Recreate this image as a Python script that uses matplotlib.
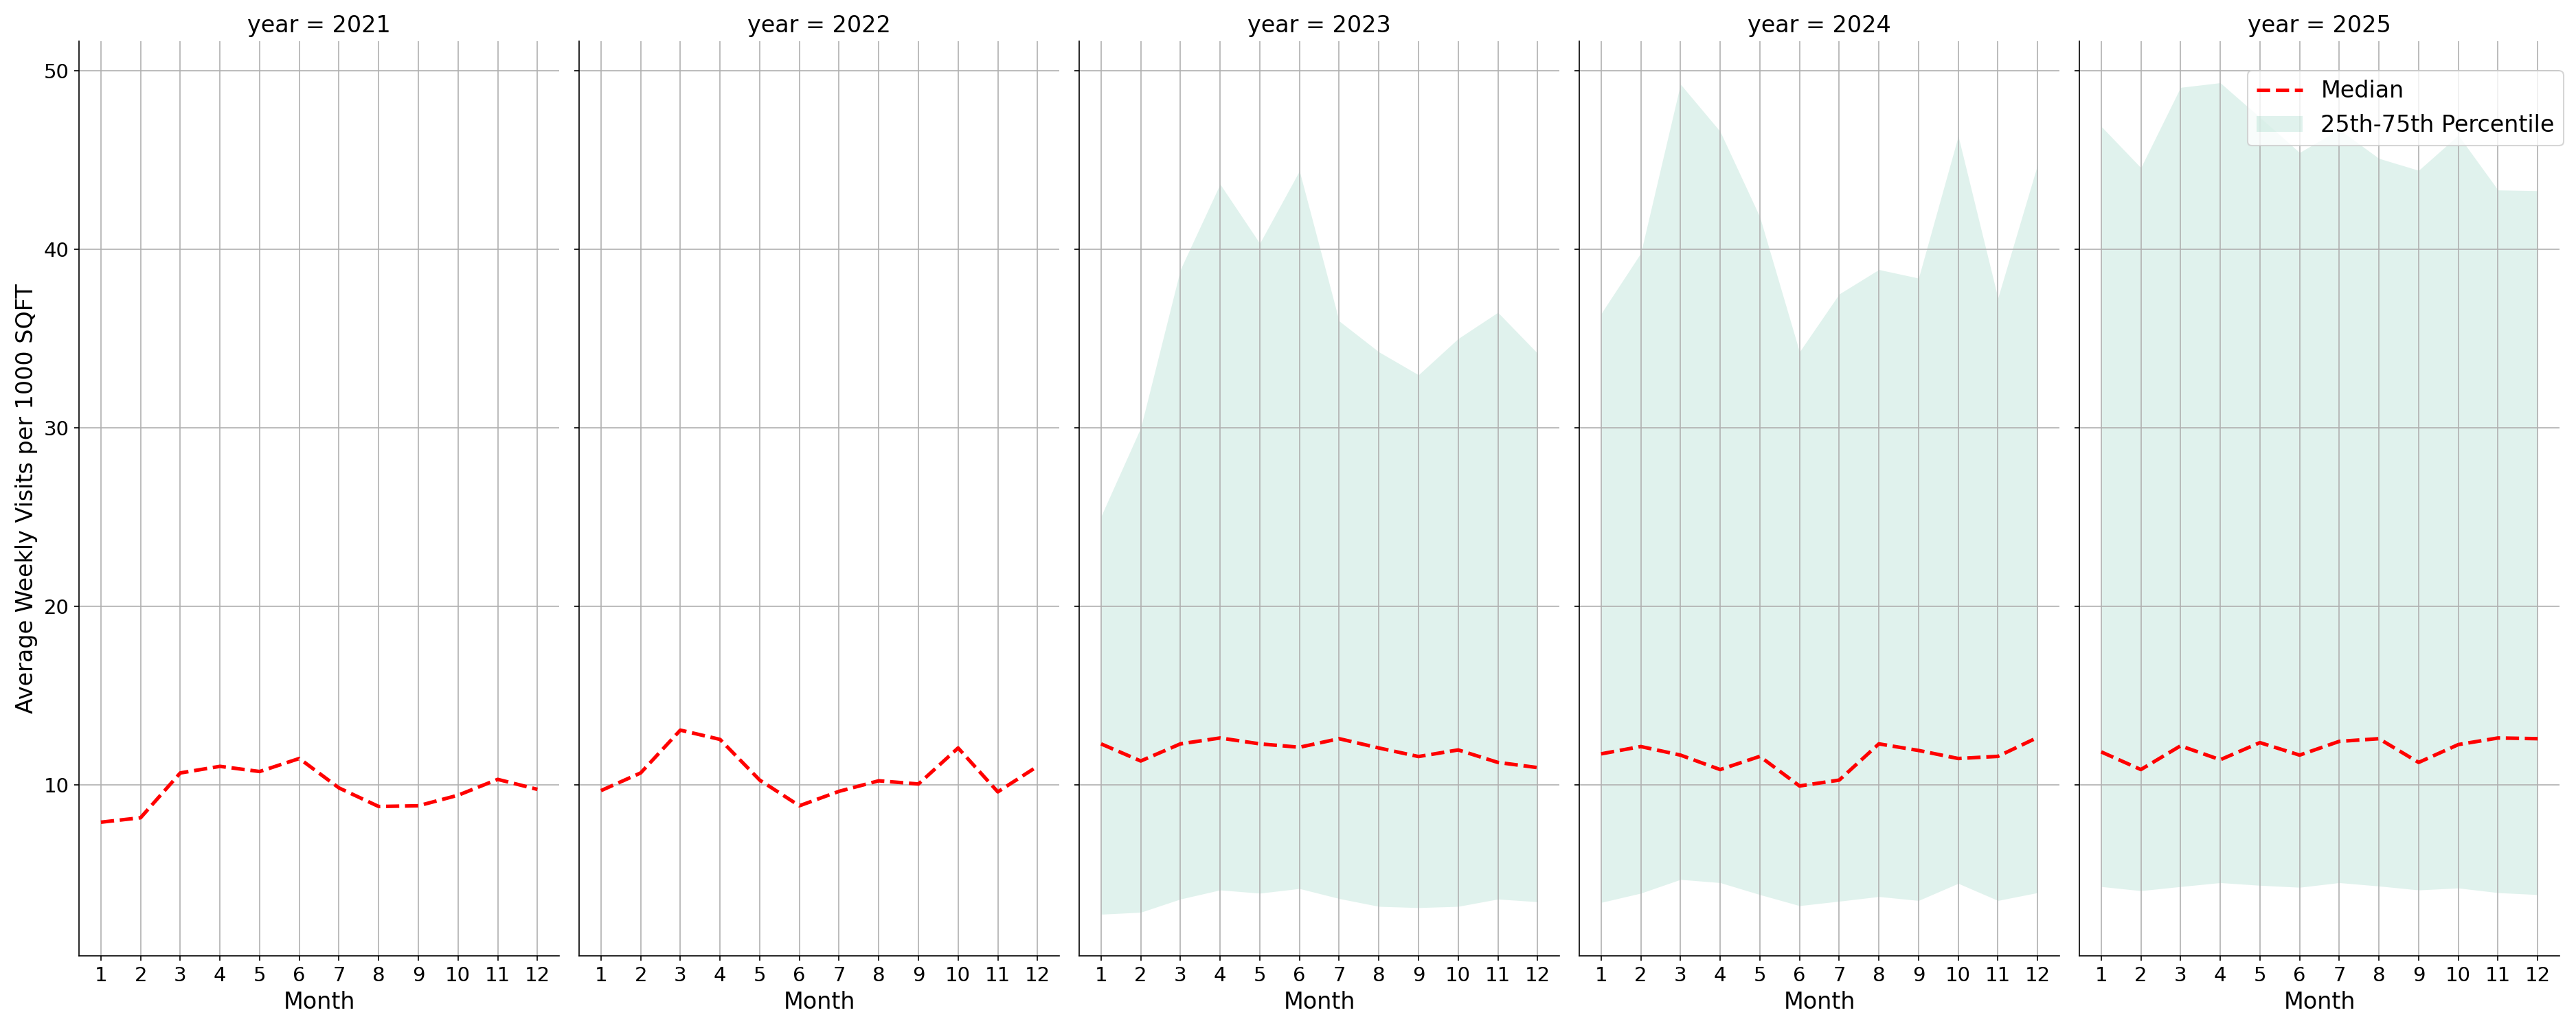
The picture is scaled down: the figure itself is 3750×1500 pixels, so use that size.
import numpy as np
import matplotlib
matplotlib.use("Agg")
import matplotlib.pyplot as plt

years = [2021, 2022, 2023, 2024, 2025]
months = np.arange(1, 13)

# median of average weekly visits per 1000 sqft
median = {
    2021: [7.9, 8.15, 10.66, 11.03, 10.74, 11.47, 9.82, 8.78, 8.82, 9.41, 10.3, 9.74],
    2022: [9.67, 10.66, 13.06, 12.54, 10.26, 8.82, 9.63, 10.22, 10.04, 12.06, 9.6, 11.03],
    2023: [12.29, 11.33, 12.29, 12.62, 12.29, 12.1, 12.58, 12.06, 11.58, 11.95, 11.25, 10.96],
    2024: [11.73, 12.14, 11.66, 10.85, 11.59, 9.93, 10.26, 12.29, 11.92, 11.47, 11.59, 12.65],
    2025: [11.84, 10.85, 12.18, 11.4, 12.36, 11.66, 12.43, 12.58, 11.25, 12.25, 12.62, 12.58],
}

# 25th / 75th percentile (no band before 2023)
p25 = {
    2023: [2.74, 2.85, 3.59, 4.1, 3.92, 4.18, 3.62, 3.18, 3.11, 3.18, 3.59, 3.44],
    2024: [3.4, 3.92, 4.69, 4.51, 3.84, 3.22, 3.47, 3.73, 3.51, 4.47, 3.51, 3.95],
    2025: [4.29, 4.06, 4.29, 4.51, 4.36, 4.25, 4.51, 4.32, 4.1, 4.21, 3.95, 3.84],
}
p75 = {
    2023: [25.04, 30.0, 38.87, 43.66, 40.34, 44.4, 35.99, 34.26, 32.97, 35.0, 36.47, 34.18],
    2024: [36.4, 39.79, 49.26, 46.61, 41.82, 34.26, 37.5, 38.87, 38.39, 46.35, 37.28, 44.76],
    2025: [46.9, 44.58, 49.08, 49.34, 47.4, 45.43, 46.72, 45.1, 44.43, 46.4, 43.33, 43.29],
}

fig, axes = plt.subplots(1, 5, figsize=(25, 10), dpi=150, sharey=True)

for ax, yr in zip(axes, years):
    if yr in p25:
        ax.fill_between(months, p25[yr], p75[yr], color="#66c2a5", alpha=0.2,
                        linewidth=0, label="25th-75th Percentile")
    ax.plot(months, median[yr], color="red", linestyle="--", linewidth=2.5, label="Median")
    ax.set_title(f"year = {yr}", fontsize=16)
    ax.set_xlabel("Month", fontsize=16)
    ax.set_xticks(months)
    ax.tick_params(labelsize=14)
    ax.grid(True)
    ax.spines["top"].set_visible(False)
    ax.spines["right"].set_visible(False)

axes[0].set_ylabel("Average Weekly Visits per 1000 SQFT", fontsize=16)

handles, labels = axes[-1].get_legend_handles_labels()
order = [labels.index("Median"), labels.index("25th-75th Percentile")]
axes[-1].legend([handles[i] for i in order], [labels[i] for i in order],
                loc="upper right", fontsize=16, borderaxespad=0,
                bbox_to_anchor=(0.9952, 0.9313), bbox_transform=fig.transFigure)

fig.subplots_adjust(left=0.0307, right=0.9936, bottom=0.072, top=0.96, wspace=0.0415)
fig.savefig("out.png")
